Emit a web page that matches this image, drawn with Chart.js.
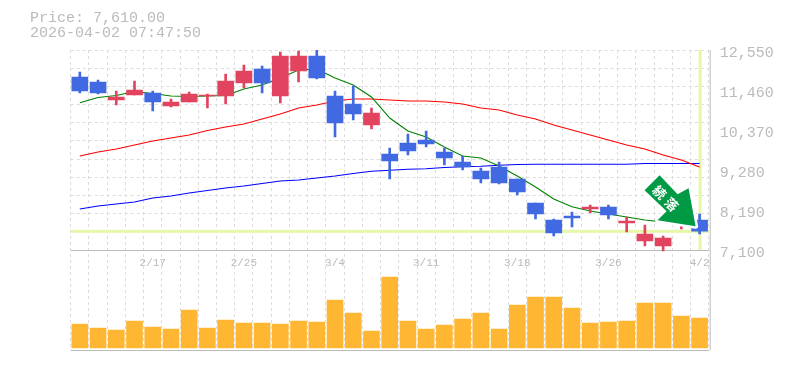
<!DOCTYPE html>
<html>
<head>
<meta charset="utf-8">
<script src="https://cdn.jsdelivr.net/npm/chart.js@4/dist/chart.umd.js"></script>
<style>
html,body{margin:0;padding:0;background:#fff;overflow:hidden;}
#title{position:absolute;left:30px;top:11px;font:15px/15px "Liberation Mono",monospace;color:#bbb;white-space:pre;}
canvas{position:absolute;left:0;top:0;}
</style>
</head>
<body>
<canvas id="chart" width="785" height="370"></canvas>
<div id="title">Price: 7,610.00
2026-04-02 07:47:50</div>
<script>
var dates = ['2/10','2/12','2/13','2/16','2/17','2/18','2/19','2/20','2/24','2/25','2/26','2/27','3/2','3/3','3/4','3/5','3/6','3/9','3/10','3/11','3/12','3/13','3/16','3/17','3/18','3/19','3/23','3/24','3/25','3/26','3/27','3/30','3/31','4/1','4/2'];
var opens = [11814,11678,11188,11324,11379,11024,11133,11297,11297,11651,12032,11297,11978,12387,11297,11079,10506,9716,10016,10098,9771,9498,9253,9362,9035,8381,7918,8027,8217,8272,7836,7345,7209,7863,7918];
var closes = [11433,11379,11270,11460,11133,11133,11351,11324,11705,11978,11651,12387,12387,11787,10561,10806,10833,9525,9798,9989,9607,9362,9035,8926,8681,8081,7564,7972,8272,8054,7891,7536,7427,8136,7610];
var highs = [11951,11733,11433,11705,11433,11215,11405,11351,11896,12141,12114,12496,12523,12550,11433,11569,10970,9880,10261,10343,9880,9661,9335,9498,9035,8381,7945,8136,8326,8326,8000,7781,7482,8326,8081];
var lows = [11379,11351,11051,11324,10888,10997,11133,10970,11079,11515,11379,11106,11678,11760,10179,10643,10397,9035,9689,9907,9416,9280,8926,8899,8599,7945,7482,7727,8108,7945,7591,7209,7073,7672,7536];
var maShort = [11114,11256,11310,11419,11365,11297,11283,11297,11310,11487,11596,11787,12005,12032,11787,11596,11269,10697,10343,10179,9907,9662,9607,9389,9117,8817,8490,8280,8163,8081,8000,7918,7863,7836,7808];
var maMid = [9661,9770,9852,9961,10070,10152,10234,10356,10452,10534,10670,10806,10970,11051,11160,11215,11215,11188,11160,11160,11133,11079,10970,10915,10779,10670,10506,10370,10234,10098,9961,9852,9689,9553,9362];
var maLong = [8217,8299,8354,8408,8517,8572,8653,8721,8790,8844,8912,8980,9008,9062,9117,9185,9245,9272,9299,9315,9348,9370,9381,9408,9430,9435,9435,9435,9435,9435,9435,9457,9457,9457,9457];
var volumes = [240,200,180,270,210,190,380,200,280,250,250,240,270,260,480,350,170,710,270,190,230,290,350,190,430,510,510,400,250,260,270,450,450,320,300];
var gridValues = [12550,12054.5,11559,11063.6,10568.2,10072.7,9577.3,9081.8,8586.4,8090.9,7595.5,7100,4375];
var priceTicks = [12550,11460,10370,9280,8190,7100];
var lastPrice = 7610;
var arrowText = ['続','落'];

var gray = '#bbbbbb', gridColor = '#dcdcdc', markerColor = '#e6f7a8';
var monoFont = '"Liberation Mono",monospace';

function candleColors(){
	var re = [];
	for (var i = 0; i < opens.length; i++) {
		re[i] = closes[i] >= opens[i] ? '#e2435f' : '#4169e1';
	}
	return re;
}
function pairs(a, b){
	var re = [];
	for (var i = 0; i < a.length; i++) {
		re[i] = [a[i], b[i]];
	}
	return re;
}
function maSet(data, color){
	return {type: 'line', data: data, borderColor: color, borderWidth: 1.1, pointRadius: 0, tension: 0, order: 5, yAxisID: 'y'};
}

// price markers sit under the marks, the arrow over them
var markers = {
	id: 'markers',
	beforeDatasetsDraw: function(chart){
		var c = chart.ctx, a = chart.chartArea, x = chart.scales.x, y = chart.scales.y;
		c.save();
		c.fillStyle = markerColor;
		c.fillRect(a.left, y.getPixelForValue(lastPrice) - 1.5, a.right - a.left, 3);
		c.fillRect(x.getPixelForValue(34) - 1, a.top, 3, y.getPixelForValue(7100) - a.top);
		c.restore();
	},
	afterDatasetsDraw: function(chart){
		var c = chart.ctx, a = chart.chartArea, x = chart.scales.x, y = chart.scales.y;
		var tx = x.getPixelForValue(34) - 4, ty = y.getPixelForValue(lastPrice) - 5;
		c.save();
		c.strokeStyle = gray;
		c.beginPath();
		c.moveTo(a.right + 1.5, a.top);
		c.lineTo(a.right + 1.5, a.bottom);
		c.stroke();
		c.translate(tx, ty);
		c.beginPath();
		c.moveTo(0, 0);
		c.lineTo(-38, -6);
		c.lineTo(-29, -15);
		c.lineTo(-51, -36);
		c.lineTo(-36, -51);
		c.lineTo(-18, -32);
		c.lineTo(-7, -38);
		c.closePath();
		c.fillStyle = '#009944';
		c.strokeStyle = '#fff';
		c.lineWidth = 5;
		c.lineJoin = 'round';
		c.stroke();
		c.fill();
		c.translate(-30, -28);
		c.rotate(Math.PI / 4);
		c.fillStyle = '#fff';
		c.font = 'bold 13px "Noto Sans CJK JP"';
		c.textAlign = 'center';
		c.textBaseline = 'middle';
		c.fillText(arrowText[0], -8.5, 0);
		c.fillText(arrowText[1], 8.5, 0);
		c.restore();
	}
};

new Chart(document.getElementById('chart'), {
	data: {
		labels: dates,
		datasets: [
			{type: 'bar', data: pairs(lows, highs), backgroundColor: candleColors(), barThickness: 2, grouped: false, order: 2, yAxisID: 'y'},
			{type: 'bar', data: pairs(opens, closes), backgroundColor: candleColors(), barThickness: 16, grouped: false, order: 1, yAxisID: 'y'},
			{type: 'bar', data: volumes, backgroundColor: '#ffb733', barThickness: 16, grouped: false, order: 3, yAxisID: 'yVol'},
			maSet(maShort, '#008000'),
			maSet(maMid, '#ff0000'),
			maSet(maLong, '#0000ff')
		]
	},
	options: {
		responsive: false,
		animation: false,
		layout: {padding: {left: 70.7, top: 50, bottom: 20, right: 0}},
		plugins: {legend: {display: false}, tooltip: {enabled: false}},
		scales: {
			x: {
				type: 'category',
				position: {y: 7100},
				offset: true,
				grid: {color: gridColor, drawTicks: false, offset: true},
				border: {display: false, dash: [3, 3]},
				ticks: {
					autoSkip: false, maxRotation: 0, padding: 6, color: gray,
					font: {family: monoFont, size: 11},
					callback: function(v, i){ return i % 5 == 4 ? dates[i] : ''; }
				}
			},
			y: {
				position: 'right',
				min: 4375,
				max: 12550,
				afterBuildTicks: function(s){ s.ticks = gridValues.map(function(v){ return {value: v}; }); },
				grid: {
					drawTicks: false,
					color: function(ctx){ return ctx.tick.value <= 7100 ? gray : gridColor; }
				},
				border: {display: false, dash: function(ctx){ return ctx.tick.value <= 7100 ? [] : [3, 3]; }},
				ticks: {display: false}
			},
			yLabels: {
				position: 'right',
				min: 4375,
				max: 12550,
				afterBuildTicks: function(s){ s.ticks = priceTicks.map(function(v){ return {value: v}; }); },
				afterFit: function(s){ s.width = 76.3; },
				grid: {display: false, drawTicks: false},
				border: {display: false},
				ticks: {
					padding: 11, labelOffset: 3, color: gray,
					font: {family: monoFont, size: 15},
					callback: function(v){ return v.toLocaleString('en-US'); }
				}
			},
			yVol: {display: false, min: -20, max: 2980}
		}
	},
	plugins: [markers]
});
</script>
</body>
</html>
